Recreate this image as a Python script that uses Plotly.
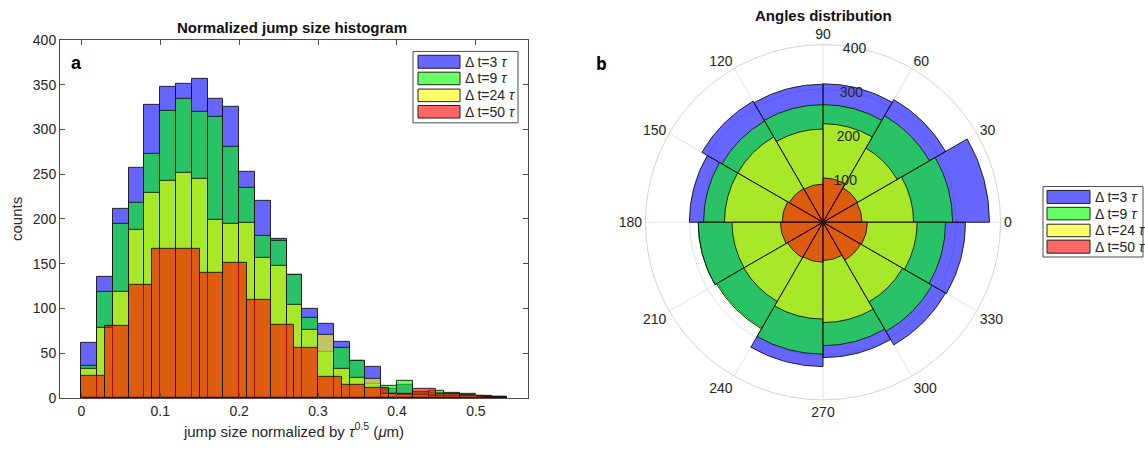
import plotly.graph_objects as go

# ---------------- data ----------------
# Histogram (a): Δt = 3, 9, 24 use bins of width 0.02 starting at 0; Δt = 50 uses bins of width 0.03
bin_w_small = 0.02
bin_w_red = 0.03
hist_dt3 = [62, 135, 211, 257, 327, 348, 351, 356, 334, 325, 253, 220, 178, 137, 99, 83, 63, 41, 35, 10, 15, 6, 6, 4, 3, 2, 1]
hist_dt9 = [36, 119, 195, 218, 273, 321, 334, 320, 314, 281, 235, 181, 175, 137, 90, 52, 56, 41, 16, 13, 19, 7, 8, 6, 4, 1, 1]
hist_dt24 = [32, 78, 119, 188, 229, 243, 251, 245, 199, 194, 196, 157, 147, 104, 76, 70, 33, 22, 21, 5, 3, 3, 2, 2, 3, 1, 0]
hist_dt50 = [25, 80, 126, 167, 167, 140, 151, 109, 82, 56, 24, 15, 11, 5, 10, 4, 2, 1]

# Polar histogram (b): 12 angular bins of 30 degrees
angle_bin_deg = 30
polar_dt3 = [375, 319, 312, 311, 315, 301, 281, 274, 325, 305, 319, 321]
polar_dt9 = [292, 277, 265, 265, 263, 269, 281, 277, 297, 278, 284, 276]
polar_dt24 = [204, 193, 222, 210, 222, 222, 205, 206, 218, 226, 207, 212]
polar_dt50 = [88, 90, 100, 86, 88, 92, 96, 92, 90, 86, 98, 100]

series_labels = ["Δ t=3 <i>τ</i>", "Δ t=9 <i>τ</i>", "Δ t=24 <i>τ</i>", "Δ t=50 <i>τ</i>"]
angle_ticks = [0, 30, 60, 90, 120, 150, 180, 210, 240, 270, 300, 330]
radial_ticks = [100, 200, 300, 400]
x_ticks = [0, 0.1, 0.2, 0.3, 0.4, 0.5]
y_ticks = [0, 50, 100, 150, 200, 250, 300, 350, 400]

# ---------------- styles ----------------
fills = ["rgba(0,0,255,0.6)", "rgba(0,255,0,0.6)", "rgba(255,255,0,0.6)", "rgba(255,0,0,0.6)"]
edge = dict(color="rgba(20,20,20,0.9)", width=1)
FONT = "Liberation Sans, Arial, Helvetica, sans-serif"
TXT = "#262626"
RAXIS_ANGLE = 86

W, H = 1145, 459

fig = go.Figure()

hist_data = [(hist_dt3, bin_w_small), (hist_dt9, bin_w_small), (hist_dt24, bin_w_small), (hist_dt50, bin_w_red)]
for (counts, bw), col in zip(hist_data, fills):
    centers = [bw * (i + 0.5) for i in range(len(counts))]
    fig.add_trace(go.Bar(x=centers, y=counts, width=bw,
                         marker=dict(color=col, line=edge),
                         showlegend=False, xaxis="x", yaxis="y"))

theta_centers = [angle_bin_deg * (i + 0.5) for i in range(len(polar_dt3))]
for r, col in zip([polar_dt3, polar_dt9, polar_dt24, polar_dt50], fills):
    fig.add_trace(go.Barpolar(r=r, theta=theta_centers, width=angle_bin_deg,
                              marker=dict(color=col, line=dict(color="rgba(20,20,20,0.9)", width=1)),
                              showlegend=False, subplot="polar"))

def px_x(p):
    return p / W

def px_y(p):
    return 1 - p / H

axis_common = dict(showline=True, linecolor="#4d4d4d", linewidth=1, mirror="ticks",
                   ticks="inside", ticklen=5, tickcolor="#4d4d4d", showgrid=False, zeroline=False,
                   tickfont=dict(family=FONT, size=14, color=TXT))

fig.update_layout(
    width=W, height=H,
    margin=dict(l=0, r=0, t=0, b=0),
    paper_bgcolor="white", plot_bgcolor="white",
    barmode="overlay", bargap=0,
    font=dict(family=FONT, color=TXT),
    xaxis=dict(domain=[px_x(60), px_x(528)], range=[-0.027, 0.566],
               tickvals=x_ticks, ticktext=["0", "0.1", "0.2", "0.3", "0.4", "0.5"],
               title=dict(text="jump size normalized by <i>τ</i><sup>0.5</sup> (<i>μ</i>m)",
                          font=dict(family=FONT, size=15, color=TXT), standoff=8),
               **axis_common),
    yaxis=dict(domain=[px_y(404), px_y(33)], range=[0, 400], tickvals=y_ticks,
               title=dict(text="counts", font=dict(family=FONT, size=15, color=TXT), standoff=6),
               **axis_common),
    polar=dict(
        domain=dict(x=[px_x(639), px_x(1007)], y=[px_y(406), px_y(38)]),
        barmode="overlay", bgcolor="white",
        angularaxis=dict(direction="counterclockwise", rotation=0,
                         tickmode="array", tickvals=angle_ticks, ticktext=[str(a) for a in angle_ticks],
                         showline=True, linecolor="#d4d4d4", linewidth=1,
                         showgrid=True, gridcolor="#e3e3e3", ticks="",
                         tickfont=dict(family=FONT, size=14, color=TXT)),
        radialaxis=dict(range=[0, 400], tickvals=radial_ticks, angle=RAXIS_ANGLE, tickangle=RAXIS_ANGLE,
                        showline=False, ticks="", showgrid=True, gridcolor="#e3e3e3",
                        tickfont=dict(family=FONT, size=14, color=TXT)),
    ),
)

annotations = [
    dict(text="<b>Normalized jump size histogram</b>", x=px_x(292), y=px_y(20),
         font=dict(family=FONT, size=15, color="#111111")),
    dict(text="<b>Angles distribution</b>", x=px_x(823), y=px_y(8),
         font=dict(family=FONT, size=15, color="#111111")),
    dict(text="<b>a</b>", x=px_x(76), y=px_y(57), font=dict(family=FONT, size=18, color="black")),
    dict(text="<b>b</b>", x=px_x(601), y=px_y(57), font=dict(family="Open Sans, sans-serif", size=17, color="black")),
]
shapes = []

def add_legend(x0, y0, x1, y1, sw_x0, sw_x1, rows, text_x):
    shapes.append(dict(type="rect", xref="paper", yref="paper",
                       x0=px_x(x0), x1=px_x(x1), y0=px_y(y1), y1=px_y(y0),
                       line=dict(color="#4d4d4d", width=1), fillcolor="white", layer="above"))
    for (ry0, ry1), col, lab in zip(rows, fills, series_labels):
        shapes.append(dict(type="rect", xref="paper", yref="paper",
                           x0=px_x(sw_x0), x1=px_x(sw_x1), y0=px_y(ry1), y1=px_y(ry0),
                           line=dict(color="#222222", width=1), fillcolor=col, layer="above"))
        annotations.append(dict(text=lab, x=px_x(text_x), y=px_y((ry0 + ry1) / 2),
                                xanchor="left", yanchor="middle",
                                font=dict(family=FONT, size=14, color=TXT)))

add_legend(413, 45, 518, 119, 418, 460,
           [(49, 62.5), (66.5, 79.5), (84, 97), (101, 114)], 463)
add_legend(1043, 185, 1143, 258, 1047, 1090,
           [(189, 202.5), (206.5, 219.5), (224, 237), (240.5, 254)], 1093)

for a in annotations:
    a.setdefault("xref", "paper")
    a.setdefault("yref", "paper")
    a.setdefault("showarrow", False)
    a.setdefault("xanchor", "center")
    a.setdefault("yanchor", "middle")

fig.update_layout(annotations=annotations, shapes=shapes)

fig.write_html("out.html")
